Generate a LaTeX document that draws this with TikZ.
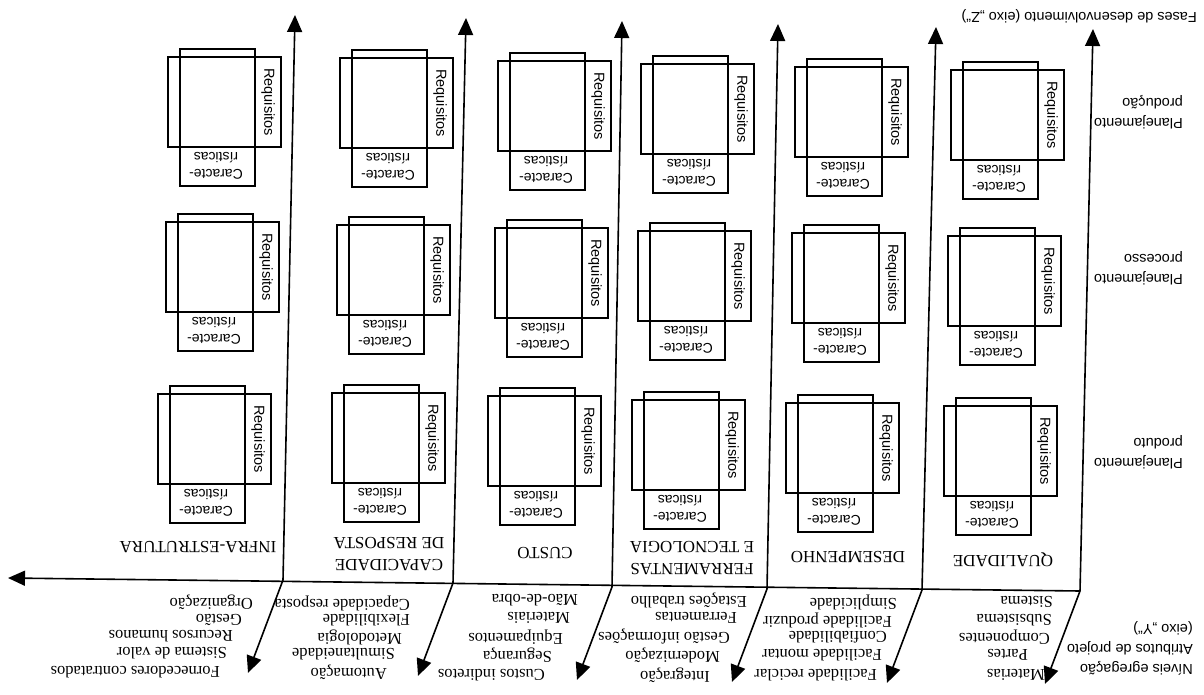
\documentclass[tikz,border=0pt]{standalone}
\usepackage{fontspec}
\setmainfont{Liberation Serif}
\newfontfamily\sansf{Liberation Sans}
\usetikzlibrary{arrows.meta}
\newcommand\cellbox[3]{%
  \draw[boxline] (#2+12,#3-8) rectangle (#2+87,#3+129);
  \draw[boxline] (#2,#3) rectangle (#2+113,#3+90);
  \node[req] (#1r) at (#2+100,#3+45) {Requisitos};
  \node[car] (#1c) at (#2+48,#3+109) {Caracte-\\rísticas};
}
\begin{document}
\begin{tikzpicture}[x=1pt,y=-1pt,
  axis/.style={line width=1.6pt},
  tip/.style={-{Triangle[width=15pt,length=17pt]}},
  boxline/.style={line width=1.3pt},
  cat/.style={rotate=180, font=\fontsize{17}{22}\selectfont, align=center, inner sep=0pt},
  item/.style={rotate=180, anchor=west, font=\fontsize{16.5}{19}\selectfont, inner sep=0pt},
  lab/.style={rotate=180, anchor=west, align=left, font=\sansf\fontsize{14.5}{20}\selectfont, inner sep=0pt},
  req/.style={rotate=-90, font=\sansf\fontsize{14.5}{17}\selectfont, inner sep=0pt},
  car/.style={rotate=180, align=center, font=\sansf\fontsize{14}{17}\selectfont, inner sep=0pt},
]
\fill[white] (0,0) rectangle (1204,695);
\useasboundingbox (0,0) rectangle (1204,695);

% axis points
\coordinate (b1) at (283,580);
\coordinate (b2) at (453,583);
\coordinate (b3) at (612,587);
\coordinate (b4) at (767,589);
\coordinate (b5) at (922,590);
\coordinate (b6) at (1080,591);
\coordinate (t1) at (295,15);
\coordinate (t2) at (466,18);
\coordinate (t3) at (622,21);
\coordinate (t4) at (778,24);
\coordinate (t5) at (936,27);
\coordinate (t6) at (1093,29);
\coordinate (y1) at (248,673);
\coordinate (y2) at (418,676);
\coordinate (y3) at (577,680);
\coordinate (y4) at (732,682);
\coordinate (y5) at (887,683);
\coordinate (y6) at (1045,684);
\coordinate (xt) at (8,578);

\draw[axis,tip] (b6) -- (xt);
\foreach \i in {1,...,6}{
  \draw[axis,tip] (b\i) -- (t\i);
  \draw[axis,tip] (b\i) -- (y\i);
}

% cells: production planning row
\cellbox{pa}{168}{57}
\cellbox{pb}{340}{58}
\cellbox{pc}{498}{61}
\cellbox{pd}{641}{64}
\cellbox{pe}{795}{67}
\cellbox{pf}{951}{70}
% process planning row
\cellbox{qa}{166}{222}
\cellbox{qb}{337}{225}
\cellbox{qc}{495}{228}
\cellbox{qd}{638}{231}
\cellbox{qe}{792}{233}
\cellbox{qf}{948}{236}
% product planning row
\cellbox{ra}{158}{394}
\cellbox{rb}{332}{393}
\cellbox{rc}{488}{396}
\cellbox{rd}{632}{400}
\cellbox{re}{786}{403}
\cellbox{rf}{944}{406}

% categories
\node[cat] (c1) at (198,547) {INFRA-ESTRUTURA};
\node[cat] (c2) at (389,554) {CAPACIDADE\\DE RESPOSTA};
\node[cat] (c3) at (545,553) {CUSTO};
\node[cat] (c4) at (692,558) {FERRAMENTAS\\E TECNOLOGIA};
\node[cat] (c5) at (848,557) {DESEMPENHO};
\node[cat] (c6) at (1003,560) {QUALIDADE};

% lists
\node[item] (l11) at (253,602) {Organização};
\node[item] (l12) at (242,620) {Gestão};
\node[item] (l13) at (233,636) {Recursos humanos};
\node[item] (l14) at (227,653) {Sistema de valor};
\node[item] (l15) at (220,672) {Fornecedores contratados};

\node[item] (l21) at (410,603) {Capacidade resposta};
\node[item] (l22) at (410,620) {Flexibilidade};
\node[item] (l23) at (402,637) {Metodologia};
\node[item] (l24) at (395,654) {Simultaneidade};
\node[item] (l25) at (387,672) {Automação};

\node[item] (l31) at (578,600) {Mão-de-obra};
\node[item] (l32) at (570,618) {Materiais};
\node[item] (l33) at (563,637) {Equipamentos};
\node[item] (l34) at (552,655) {Segurança};
\node[item] (l35) at (545,675) {Custos indiretos};

\node[item] (l41) at (747,600) {Estações trabalho};
\node[item] (l42) at (737,618) {Ferramentas};
\node[item] (l43) at (730,637) {Gestão informações};
\node[item] (l44) at (720,655) {Modernização};
\node[item] (l45) at (710,675) {Integração};

\node[item] (l51) at (897,602) {Simplicidade};
\node[item] (l52) at (892,620) {Facilidade produzir};
\node[item] (l53) at (887,637) {Confiabilidade};
\node[item] (l54) at (882,655) {Facilidade montar};
\node[item] (l55) at (877,675) {Facilidade reciclar};

\node[item] (l61) at (1053,602) {Sistema};
\node[item] (l62) at (1052,620) {Subsistema};
\node[item] (l63) at (1050,637) {Componentes};
\node[item] (l64) at (1028,655) {Partes};
\node[item] (l65) at (1045,675) {Materias};

% axis and row labels
\node[lab] (zl) at (1197,16) {Fases de desenvolvimento (eixo „Z“)};
\node[lab] (yl) at (1193,648) {Níveis egregação\\Atributos de projeto\\(eixo „Y“)};
\node[lab] (r1) at (1183,112) {Planejamento\\produção};
\node[lab] (r2) at (1183,268) {Planejamento\\processo};
\node[lab] (r3) at (1183,452) {Planejamento\\produto};
\end{tikzpicture}
\end{document}
